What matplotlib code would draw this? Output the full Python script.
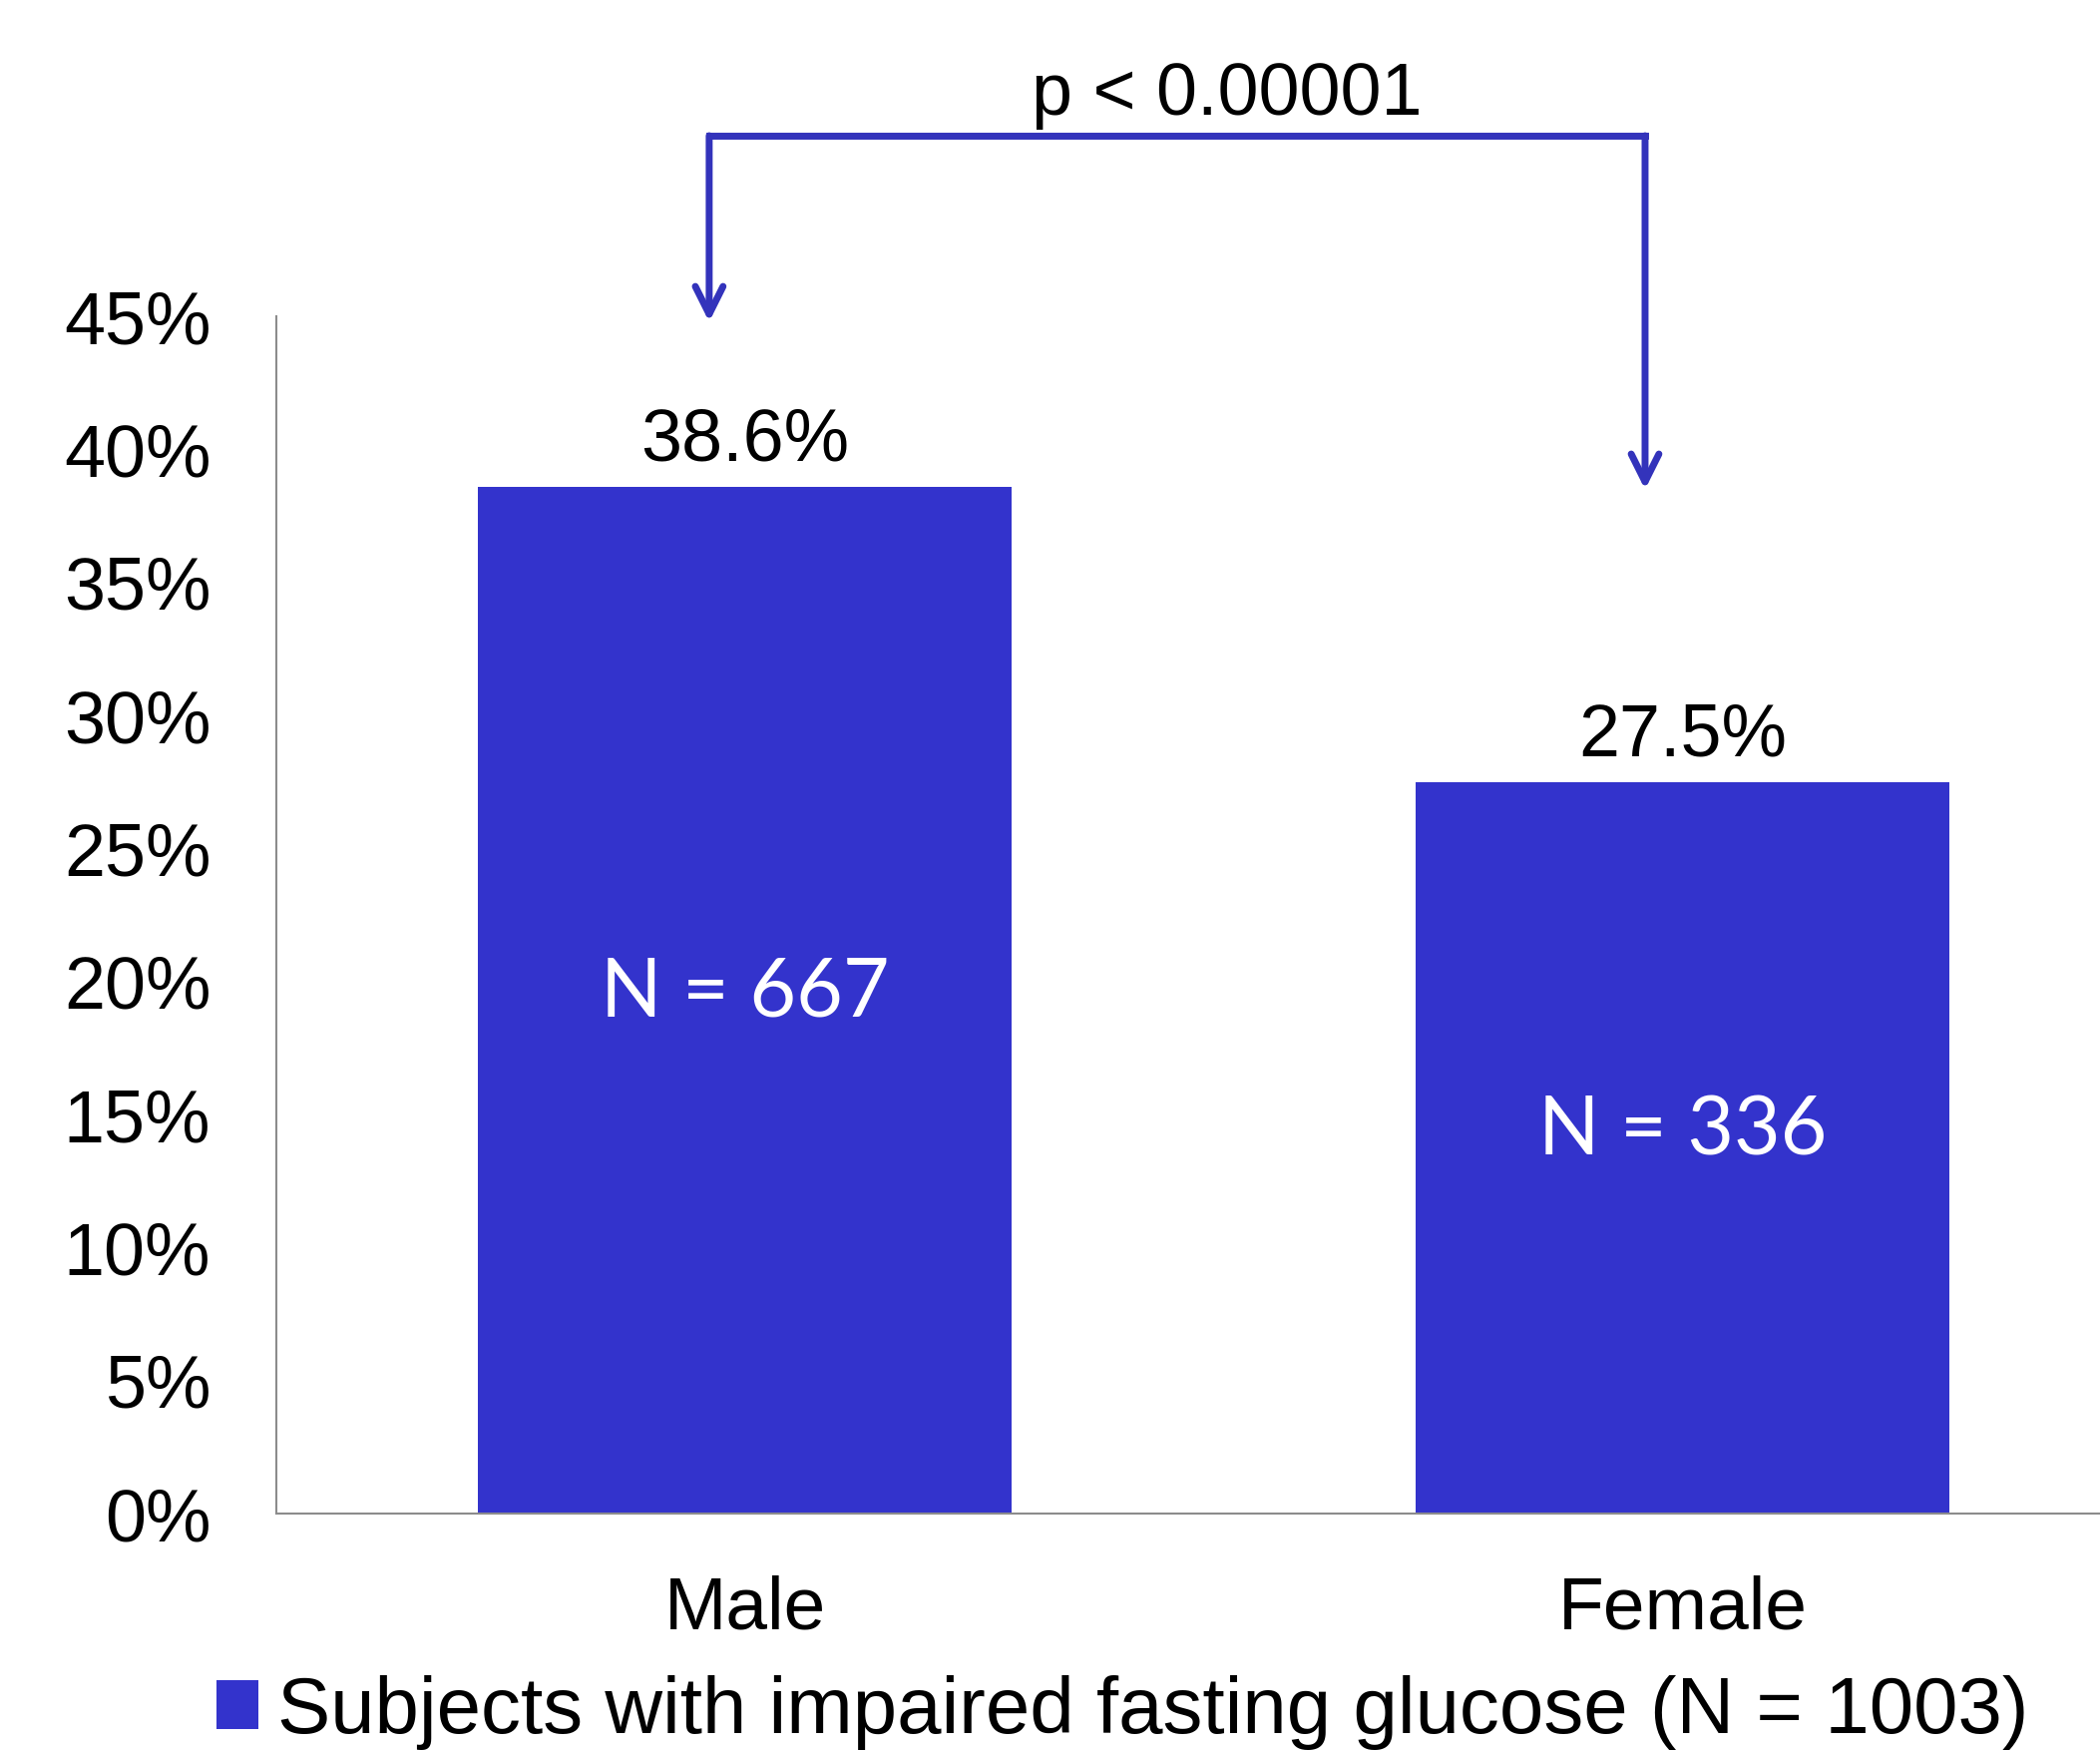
import matplotlib
matplotlib.use("Agg")
import matplotlib.pyplot as plt

# prevalence of impaired fasting glucose by sex
groups = ["Male", "Female"]
pct = [38.6, 27.5]
n_labels = ["N = 667", "N = 336"]
legend_label = "Subjects with impaired fasting glucose (N = 1003)"
p_text = "p < 0.00001"
yticks = [0, 5, 10, 15, 20, 25, 30, 35, 40, 45]

bar_color = "#3333CC"
line_color = "#3333BB"

plt.rcParams["font.family"] = ["Liberation Sans", "DejaVu Sans"]

fig = plt.figure(figsize=(21.05, 17.54), dpi=100)
ax = fig.add_axes([0.1314, 0.1351, 0.8931, 0.684])

x = list(range(len(groups)))
bars = ax.bar(x, pct, width=0.57, color=bar_color, label=legend_label)

ax.set_xlim(-0.5, 1.5)
ax.set_ylim(0, 45)
ax.set_yticks(yticks)
ax.set_yticklabels([f"{t}%" for t in yticks], fontsize=53)
ax.set_xticks(x)
ax.set_xticklabels(groups, fontsize=54)
ax.tick_params(axis="y", length=0, pad=47)
ax.tick_params(axis="x", length=0, pad=44)
for s in ["top", "right"]:
    ax.spines[s].set_visible(False)
for s in ["left", "bottom"]:
    ax.spines[s].set_color("#8c8c8c")
    ax.spines[s].set_linewidth(1.5)

# percentages above the bars
for i, v in enumerate(pct):
    ax.text(i, v + 1.0, f"{v}%", ha="center", va="baseline", fontsize=53)

# sample sizes inside the bars
n_y = [18.7, 13.5]
for i, lab in enumerate(n_labels):
    ax.text(i, n_y[i], lab, ha="center", va="baseline", color="white",
            fontsize=58, family="Lato")

# significance bracket
left_x, right_x, top_y = -0.038, 0.96, 51.8
ax.plot([left_x, right_x], [top_y, top_y], color=line_color, lw=5,
        solid_capstyle="projecting", clip_on=False)
for xx, tip in [(left_x, 44.8), (right_x, 38.5)]:
    ax.annotate("", xy=(xx, tip), xytext=(xx, top_y),
                arrowprops=dict(arrowstyle="->,head_length=20,head_width=10",
                                mutation_scale=1, color=line_color, lw=5,
                                capstyle="round", joinstyle="round",
                                shrinkA=0, shrinkB=0),
                annotation_clip=False)
ax.text(0.514, 52.6, p_text, ha="center", va="baseline", fontsize=53)

ax.legend(handles=[bars], loc="lower left", bbox_to_anchor=(217 / 2105, 0.0),
          bbox_transform=fig.transFigure, frameon=False, fontsize=57.5,
          handlelength=0.52, handleheight=0.57, handletextpad=0.25,
          borderpad=0, borderaxespad=0)

fig.savefig("out.png", dpi=100)
